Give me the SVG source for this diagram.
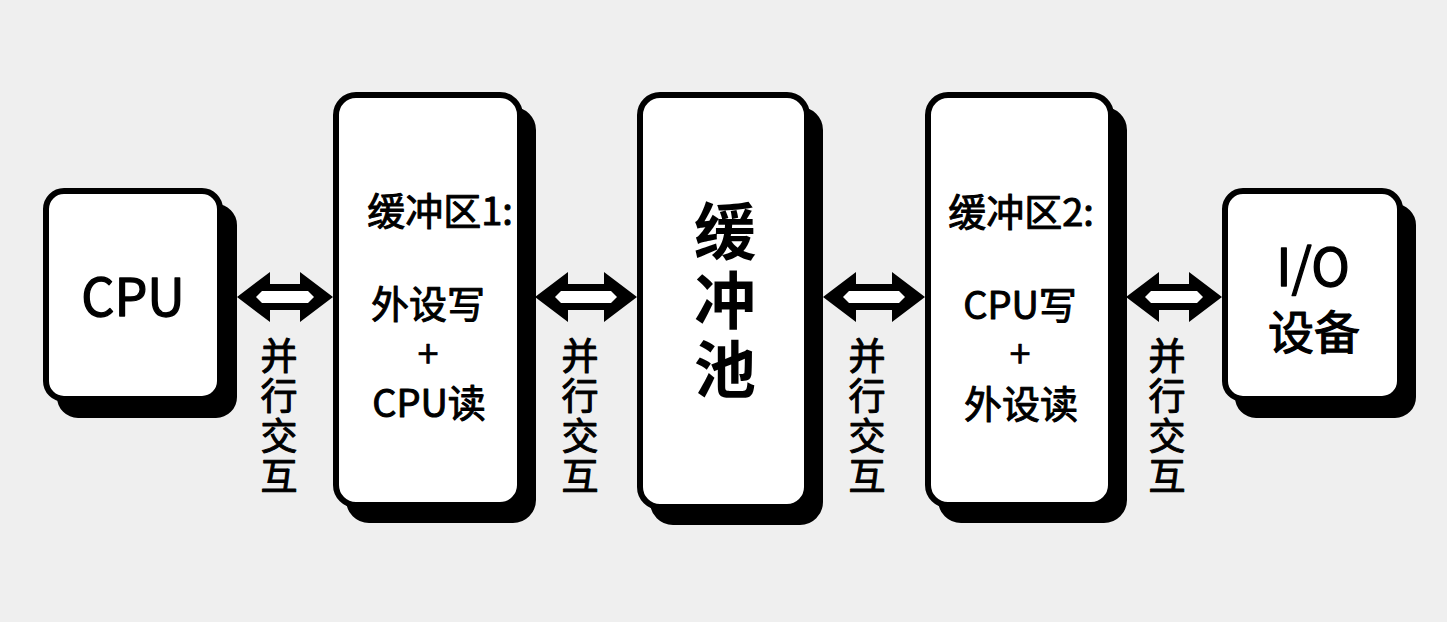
<svg xmlns="http://www.w3.org/2000/svg" width="1447" height="622" viewBox="0 0 1447 622">
<style>
.box{fill:#fff;stroke:#000;stroke-width:6}
.sh{fill:#000;stroke:#000;stroke-width:6}
text{font-family:"Noto Sans CJK SC","Noto Sans",sans-serif;fill:#000;text-anchor:middle;font-weight:400;stroke:#000;stroke-width:1;stroke-linejoin:round}
.t{font-size:38px}
.plus{stroke-width:0.6}
.big{font-size:52px;stroke-width:1.3}
.io{font-size:52px;stroke-width:1.3}
.io2{font-size:46px;stroke-width:1.2}
.pool{font-size:62px;font-weight:700;stroke-width:0;writing-mode:vertical-rl;text-anchor:start;letter-spacing:7px}
.lbl{font-size:37px;writing-mode:vertical-rl;text-anchor:start;letter-spacing:3px}
.arr{fill:#000}
.slit{fill:#fff}
</style>
<rect width="1447" height="622" fill="#efefef"/>

<g id="cpu">
<rect class="sh" x="60" y="207" width="174" height="208" rx="18"/>
<rect class="box" x="46" y="191" width="174" height="208" rx="18"/>
<text class="big" x="133" y="316">CPU</text>
</g>

<g id="buffer1">
<rect class="sh" x="349" y="110" width="184" height="410" rx="20"/>
<rect class="box" x="336" y="95" width="184" height="410" rx="20"/>
<text class="t" x="440" y="225">缓冲区1:</text>
<text class="t"><tspan x="428" y="318">外设写</tspan><tspan class="plus" x="428" y="368">+</tspan><tspan x="429" y="417">CPU读</tspan></text>
</g>

<g id="pool">
<rect class="sh" x="653" y="110" width="167" height="412" rx="20"/>
<rect class="box" x="640" y="95" width="167" height="412" rx="20"/>
<text class="pool" x="725" y="200">缓冲池</text>
</g>

<g id="buffer2">
<rect class="sh" x="941" y="110" width="183" height="410" rx="20"/>
<rect class="box" x="928" y="95" width="183" height="410" rx="20"/>
<text class="t" x="1021" y="226">缓冲区2:</text>
<text class="t"><tspan x="1020" y="319">CPU写</tspan><tspan class="plus" x="1020" y="368">+</tspan><tspan x="1021" y="418">外设读</tspan></text>
</g>

<g id="io">
<rect class="sh" x="1238" y="207" width="175" height="208" rx="18"/>
<rect class="box" x="1225" y="191" width="175" height="208" rx="18"/>
<text class="io" x="1313" y="286">I/O</text>
<text class="io2" x="1314" y="349">设备</text>
</g>

<g id="connectors">
<g id="a1">
<polygon class="arr" points="237,297 270,272 270,284 300,284 300,272 333,297 300,322 300,310 270,310 270,322"/>
<polygon class="slit" points="256,297 262,291 308,291 314,297 308,303 262,303"/>
<text class="lbl" x="279" y="337">并行交互</text>
</g>
<g id="a2">
<polygon class="arr" points="535,297 568,272 568,284 604,284 604,272 637,297 604,322 604,310 568,310 568,322"/>
<polygon class="slit" points="555,297 561,291 611,291 617,297 611,303 561,303"/>
<text class="lbl" x="580" y="337">并行交互</text>
</g>
<g id="a3">
<polygon class="arr" points="823,297 856,272 856,284 892,284 892,272 925,297 892,322 892,310 856,310 856,322"/>
<polygon class="slit" points="843,297 849,291 899,291 905,297 899,303 849,303"/>
<text class="lbl" x="867" y="337">并行交互</text>
</g>
<g id="a4">
<polygon class="arr" points="1126,297 1159,272 1159,284 1189,284 1189,272 1222,297 1189,322 1189,310 1159,310 1159,322"/>
<polygon class="slit" points="1145,297 1151,291 1197,291 1203,297 1197,303 1151,303"/>
<text class="lbl" x="1167" y="337">并行交互</text>
</g>
</g>
</svg>
